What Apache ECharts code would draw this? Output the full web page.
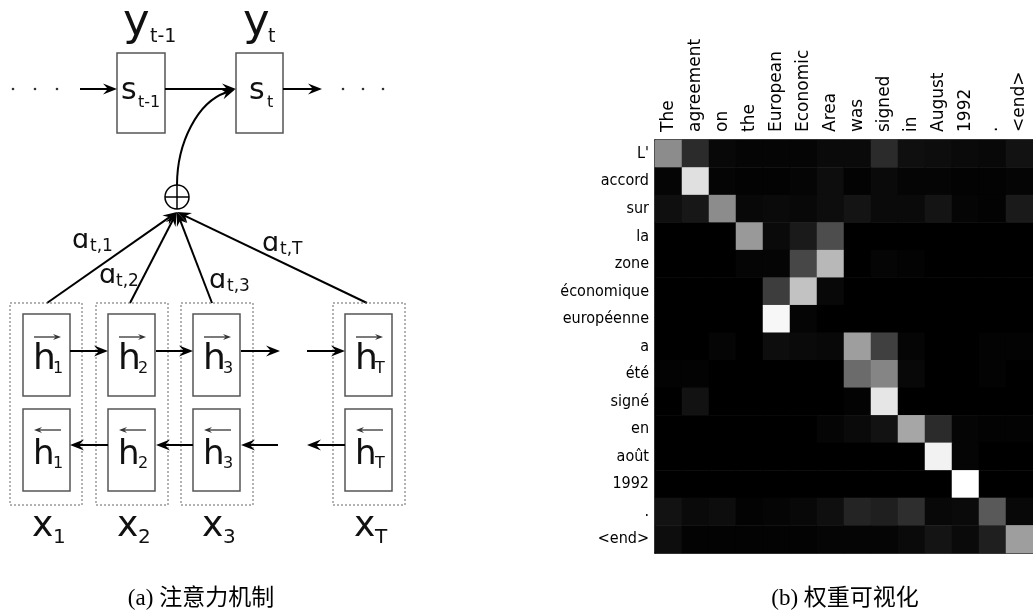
<!DOCTYPE html>
<html>
<head>
<meta charset="utf-8">
<script src="https://cdn.jsdelivr.net/npm/echarts@6/dist/echarts.min.js"></script>
<style>
  html, body { margin: 0; padding: 0; background: #fff; }
  #main { width: 1033px; height: 613px; }
</style>
</head>
<body>
<div id="main"></div>
<script>
// source words (columns) and target words (rows)
const colLabels = ['The', 'agreement', 'on', 'the', 'European', 'Economic', 'Area', 'was', 'signed', 'in', 'August', '1992', '.', '<end>'];
const rowLabels = ['L\'', 'accord', 'sur', 'la', 'zone', 'économique', 'européenne', 'a', 'été', 'signé', 'en', 'août', '1992', '.', '<end>'];

// attention weights, one row per target word
const weights = [
  [0.55, 0.17, 0.03, 0.02, 0.02, 0.02, 0.04, 0.04, 0.17, 0.06, 0.05, 0.04, 0.03, 0.07],
  [0.02, 0.88, 0.02, 0.01, 0.01, 0.02, 0.05, 0.01, 0.04, 0.02, 0.02, 0.01, 0.01, 0.02],
  [0.06, 0.09, 0.55, 0.03, 0.04, 0.03, 0.05, 0.08, 0.04, 0.04, 0.08, 0.02, 0.01, 0.10],
  [0.00, 0.00, 0.00, 0.60, 0.04, 0.10, 0.30, 0.00, 0.00, 0.00, 0.00, 0.00, 0.00, 0.00],
  [0.00, 0.00, 0.00, 0.02, 0.02, 0.28, 0.72, 0.00, 0.02, 0.01, 0.00, 0.00, 0.00, 0.00],
  [0.00, 0.00, 0.00, 0.00, 0.24, 0.76, 0.03, 0.00, 0.00, 0.00, 0.00, 0.00, 0.00, 0.00],
  [0.00, 0.00, 0.00, 0.00, 0.97, 0.02, 0.00, 0.00, 0.00, 0.00, 0.00, 0.00, 0.00, 0.00],
  [0.00, 0.00, 0.02, 0.00, 0.05, 0.04, 0.03, 0.62, 0.25, 0.02, 0.00, 0.00, 0.01, 0.01],
  [0.01, 0.01, 0.00, 0.00, 0.00, 0.00, 0.00, 0.42, 0.52, 0.03, 0.00, 0.00, 0.01, 0.00],
  [0.00, 0.07, 0.00, 0.00, 0.00, 0.00, 0.00, 0.01, 0.90, 0.00, 0.00, 0.00, 0.00, 0.00],
  [0.00, 0.00, 0.00, 0.00, 0.00, 0.00, 0.02, 0.04, 0.07, 0.65, 0.17, 0.02, 0.01, 0.01],
  [0.00, 0.00, 0.00, 0.00, 0.00, 0.00, 0.00, 0.00, 0.00, 0.00, 0.95, 0.02, 0.00, 0.00],
  [0.00, 0.00, 0.00, 0.00, 0.00, 0.00, 0.00, 0.00, 0.00, 0.00, 0.00, 1.00, 0.00, 0.00],
  [0.07, 0.04, 0.05, 0.01, 0.02, 0.03, 0.06, 0.14, 0.12, 0.18, 0.03, 0.04, 0.35, 0.03],
  [0.05, 0.01, 0.01, 0.01, 0.01, 0.01, 0.02, 0.02, 0.02, 0.04, 0.08, 0.04, 0.12, 0.62]
];

const captions = ['(a) 注意力机制', '(b) 权重可视化'];

let heatData = []
for (let r = 0; r < weights.length; r++) {
    for (let c = 0; c < weights[r].length; c++) {
        heatData.push([c, r, weights[r][c]])
    }
}

// ---- left diagram helpers ----
const FONT = "'DejaVu Sans'"
// base = wanted baseline of the glyphs
function txt(x, base, str, size, color) {
    return {
        type: 'text',
        style: {
            text: str, x: x, y: base - 0.24 * size,
            font: size + 'px ' + FONT, fill: color || '#111',
            align: 'left', verticalAlign: 'middle'
        }
    }
}
function line(x1, y1, x2, y2, w, color) {
    return {type: 'line', shape: {x1: x1, y1: y1, x2: x2, y2: y2}, style: {stroke: color || '#000', lineWidth: w || 2}}
}
function head(tx, ty, ang, len, half, color) {
    len = len || 14
    half = half || 5.5
    const c = Math.cos(ang), s = Math.sin(ang)
    const bx = tx - c * len, by = ty - s * len
    const nx = -s, ny = c
    return {
        type: 'polygon',
        shape: {points: [[tx, ty], [bx + nx * half, by + ny * half], [tx - c * len * 0.65, ty - s * len * 0.65], [bx - nx * half, by - ny * half]]},
        style: {fill: color || '#000'}
    }
}
function arrow(x1, y1, x2, y2) {
    const ang = Math.atan2(y2 - y1, x2 - x1)
    return [line(x1, y1, x2 - Math.cos(ang) * 6, y2 - Math.sin(ang) * 6, 2), head(x2, y2, ang)]
}
function box(x, y, w, h) {
    return {type: 'rect', shape: {x: x, y: y, width: w, height: h}, style: {fill: '#fff', stroke: '#555', lineWidth: 1.5}}
}
function dotted(x, y, w, h) {
    return {type: 'rect', shape: {x: x, y: y, width: w, height: h}, style: {fill: 'none', stroke: '#666', lineWidth: 1, lineDash: [2, 2]}}
}

let g = []
// decoder states
g.push(box(117, 53, 48, 80), box(236, 53, 47, 80))
g.push(txt(123, 34, 'y', 45), txt(150, 42, 't-1', 19))
g.push(txt(243, 34, 'y', 45), txt(268, 42, 't', 19))
g.push(txt(121, 98, 's', 30), txt(138, 107, 't-1', 16))
g.push(txt(249, 98, 's', 30), txt(267, 107, 't', 16))
;[13, 35, 57, 343, 363, 383].forEach(x => {
    g.push({type: 'circle', shape: {cx: x, cy: 89, r: 1.3}, style: {fill: '#333'}})
})
g.push(...arrow(80, 89, 117, 89), ...arrow(165, 89, 236, 89), ...arrow(283, 89, 322, 89))

// context curve into s_t
g.push({
    type: 'bezierCurve',
    shape: {x1: 177, y1: 185, cpx1: 177, cpy1: 142, cpx2: 198, cpy2: 102, x2: 226, y2: 92.5},
    style: {stroke: '#000', lineWidth: 2, fill: 'none'}
})
g.push(head(235, 89.5, Math.atan2(-3.5, 10)))

// attention lines
const srcTops = [47, 130, 212, 367]
srcTops.forEach(x => {
    g.push(...arrow(x, 303, 177, 212))
})
g.push({type: 'circle', shape: {cx: 177, cy: 197, r: 12}, style: {fill: '#fff', stroke: '#000', lineWidth: 1.5}})
g.push(line(165, 197, 189, 197, 1.5), line(177, 185, 177, 209, 1.5))

g.push(txt(72, 247, 'ɑ', 27), txt(90, 251, 't,1', 17))
g.push(txt(99, 282, 'ɑ', 27), txt(116, 286, 't,2', 17))
g.push(txt(209, 287, 'ɑ', 27), txt(227, 291, 't,3', 17))
g.push(txt(262, 250, 'ɑ', 27), txt(280, 254, 't,T', 17))

// encoder columns
const colX = [10, 96, 181, 333]
const innerX = [23, 108, 193, 345]
const subs = ['1', '2', '3', 'T']
for (let i = 0; i < 4; i++) {
    g.push(dotted(colX[i], 303, 72, 202))
    g.push(box(innerX[i], 314, 47, 82), box(innerX[i], 409, 47, 82))
    const hx = innerX[i] + 10
    g.push(txt(hx, 368, 'h', 36), txt(hx + 20, 373, subs[i], 16))
    g.push(line(hx + 1, 337, hx + 25, 337, 1.3, '#333'), head(hx + 28, 337, 0, 8, 3, '#333'))
    g.push(txt(hx, 463, 'h', 34), txt(hx + 20, 468, subs[i], 16))
    g.push(line(hx + 28, 430, hx + 4, 430, 1.3, '#333'), head(hx + 1, 430, Math.PI, 8, 3, '#333'))
    g.push(txt(innerX[i] + 9, 535, 'x', 36), txt(innerX[i] + 30, 543, subs[i], 20))
}
g.push(...arrow(70, 351, 108, 351), ...arrow(156, 351, 193, 351), ...arrow(241, 351, 280, 351), ...arrow(307, 351, 345, 351))
g.push(...arrow(108, 445, 70, 445), ...arrow(193, 445, 156, 445), ...arrow(278, 445, 241, 445), ...arrow(345, 445, 307, 445))

// captions
;[[201, captions[0]], [845, captions[1]]].forEach(p => {
    g.push({
        type: 'text',
        style: {
            text: p[1], x: p[0], y: 599,
            font: "23px 'Liberation Serif', 'Noto Sans CJK SC'", fill: '#000',
            align: 'center', verticalAlign: 'middle'
        }
    })
})

const axisLine = {show: true, lineStyle: {color: '#000', width: 1.5}}
const tick = {show: true, inside: true, alignWithLabel: true, length: 4, lineStyle: {color: '#666', width: 1}}

const chart = echarts.init(document.getElementById('main'), null, {renderer: 'canvas'})
chart.setOption({
    backgroundColor: '#fff',
    animation: false,
    grid: {left: 655, top: 140, width: 386, height: 413},
    xAxis: [{
        type: 'category',
        data: colLabels,
        position: 'top',
        axisLine: axisLine,
        axisTick: tick,
        axisLabel: {rotate: -90, interval: 0, margin: 8, fontSize: 17, fontFamily: 'DejaVu Sans', color: '#000'},
        splitLine: {show: false}
    }, {
        type: 'category',
        data: colLabels,
        position: 'bottom',
        axisLine: axisLine,
        axisTick: tick,
        axisLabel: {show: false},
        splitLine: {show: false}
    }],
    yAxis: {
        type: 'category',
        data: rowLabels,
        inverse: true,
        axisLine: axisLine,
        axisTick: tick,
        axisLabel: {interval: 0, margin: 6, fontSize: 16, fontFamily: "'DejaVu Sans Condensed', 'DejaVu Sans'", color: '#000'},
        splitLine: {show: false}
    },
    visualMap: {show: false, min: 0, max: 1, seriesIndex: 0, inRange: {color: ['#000000', '#ffffff']}},
    series: [{
        type: 'heatmap',
        xAxisIndex: 0,
        data: heatData,
        emphasis: {disabled: true}
    }],
    graphic: g
})
</script>
</body>
</html>
